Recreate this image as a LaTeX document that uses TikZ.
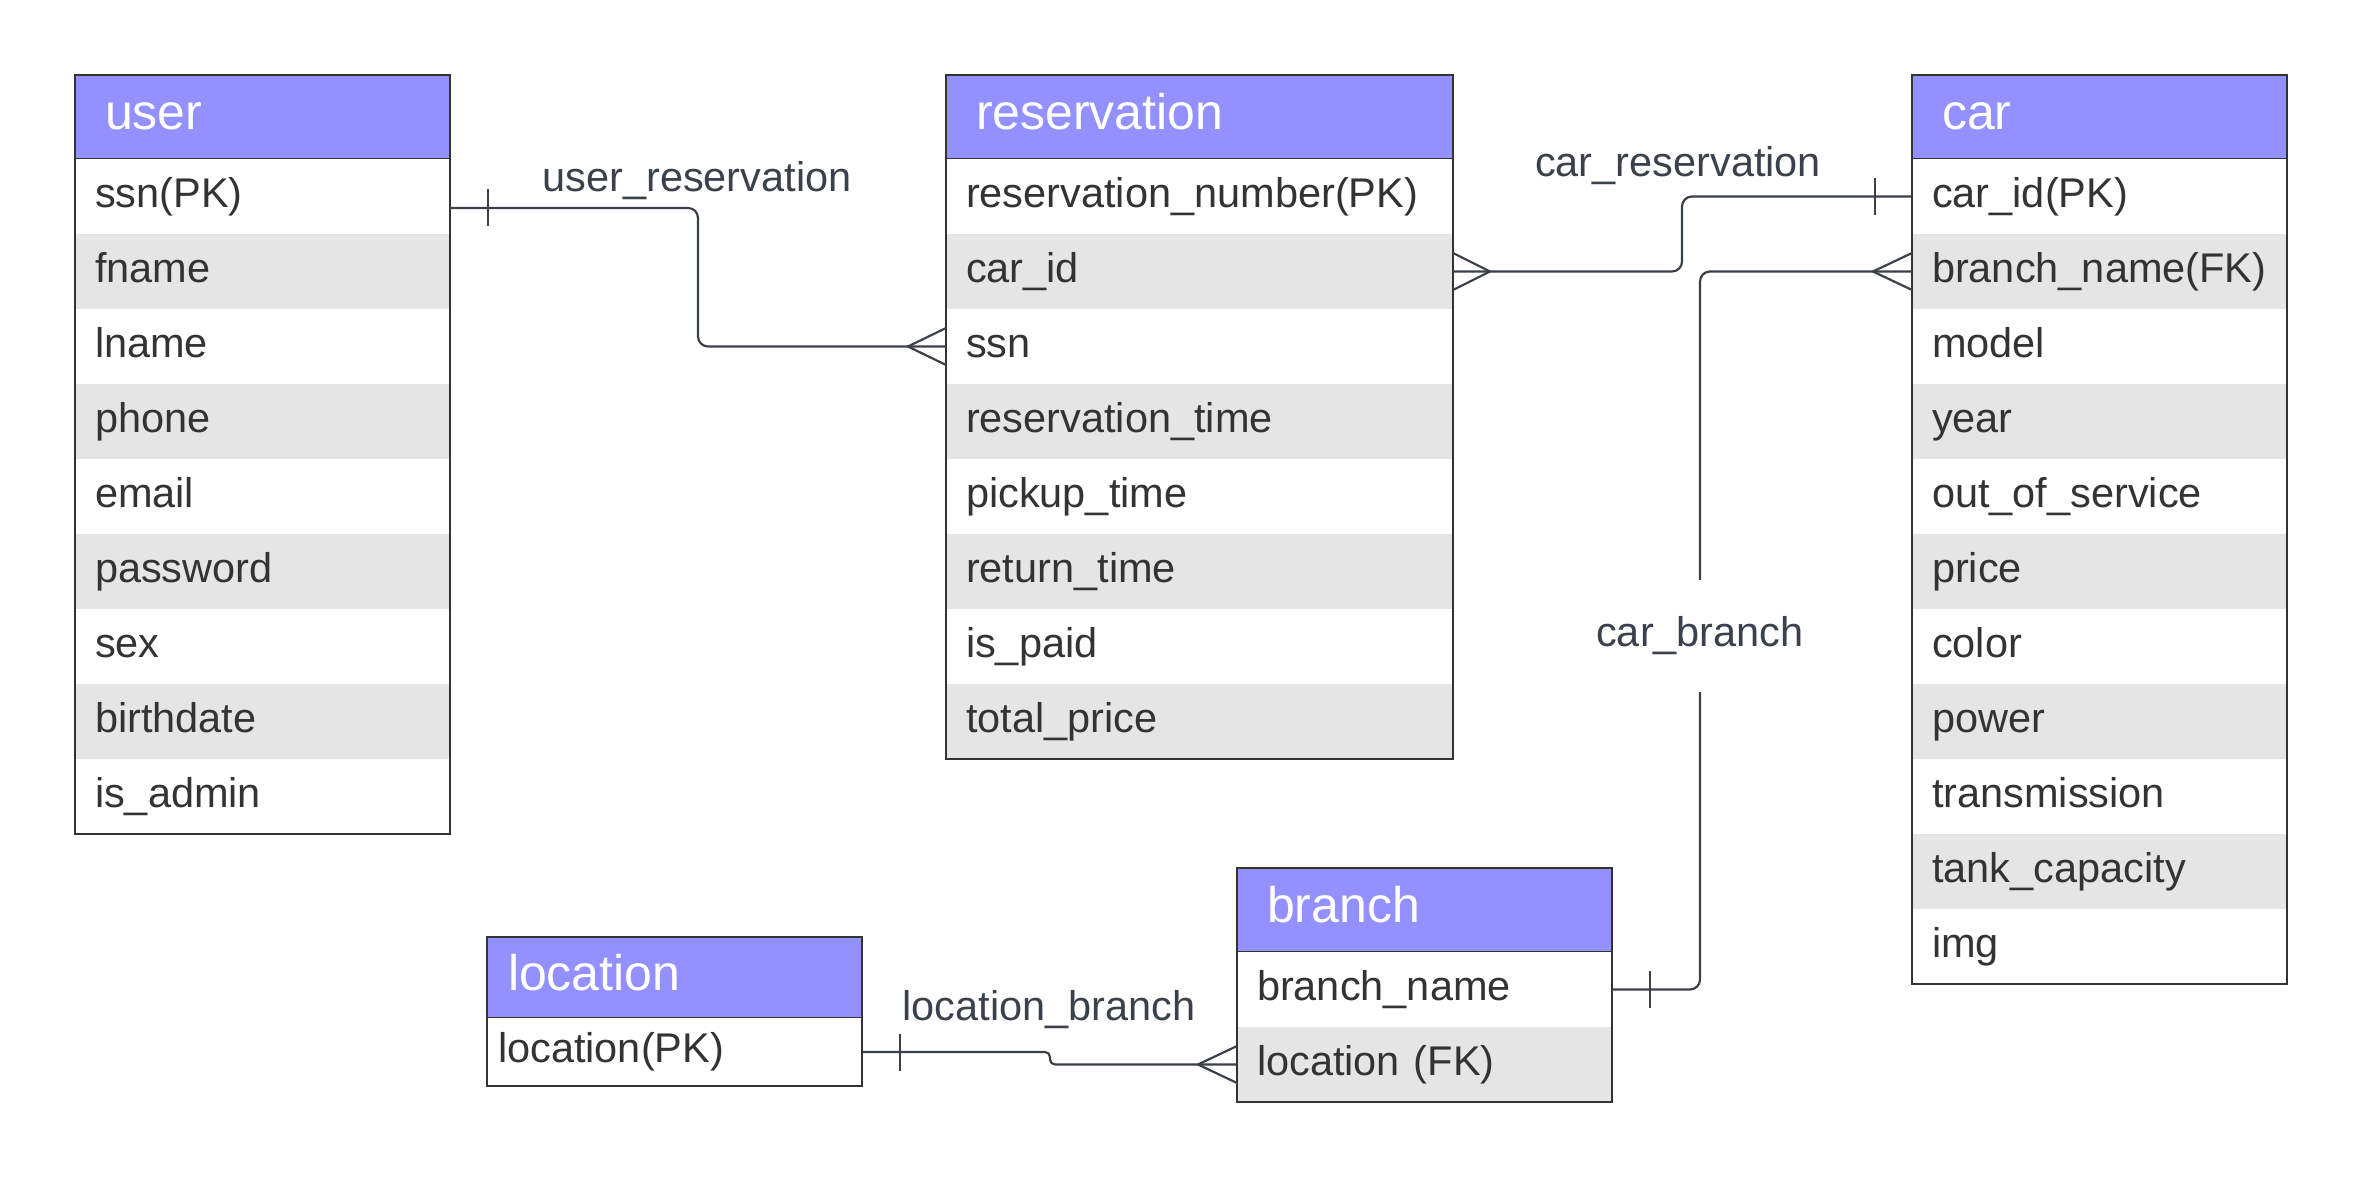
\documentclass[tikz,border=0pt]{standalone}
\usepackage{fontspec}
\setmainfont{Liberation Sans}
\usepackage{xcolor}
\usepackage{tikz}
\usetikzlibrary{positioning}
\definecolor{entete}{RGB}{146,145,255}
\definecolor{grisc}{RGB}{229,229,229}
\definecolor{bord}{RGB}{51,51,51}
\definecolor{trait}{RGB}{58,63,72}
\definecolor{texte}{RGB}{51,51,51}
\definecolor{libel}{RGB}{58,65,76}

\begin{document}
\begin{tikzpicture}[x=0.3pt, y=0.3pt,
  hd/.style={rectangle, draw=bord, line width=0.75pt, fill=entete, text=white, anchor=north west,
             font=\fontsize{15}{18}\selectfont, minimum height=25.2pt, text width=#1, inner xsep=9pt,
             inner ysep=0pt, outer sep=0pt, align=left, text height=10.8pt, text depth=3.15pt},
  rw/.style={rectangle, fill=white, text=texte, font=\fontsize{12.45}{15}\selectfont,
             minimum height=22.5pt, text width=#1, inner xsep=6pt, inner ysep=0pt, outer sep=0pt,
             align=left, text height=9pt, text depth=2.6pt},
  gr/.style={rw=#1, fill=grisc},
  tab/.style={draw=bord, line width=0.75pt},
  lien/.style={draw=trait, line width=0.65pt, rounded corners=3pt},
  pied/.style={draw=trait, line width=0.65pt, sharp corners, line join=miter},
  lbl/.style={text=libel, font=\fontsize{12.45}{15}\selectfont, inner sep=0pt,
              text height=9pt, text depth=2.6pt}]

\useasboundingbox (0,0) rectangle (2363,-1178);

% user
\node[hd=94.5pt] (user) at (75,-75) {user};
\node[rw=100.5pt, below=0pt of user] (u1) {ssn(PK)};
\node[gr=100.5pt, below=0pt of u1] (u2) {fname};
\node[rw=100.5pt, below=0pt of u2] (u3) {lname};
\node[gr=100.5pt, below=0pt of u3] (u4) {phone};
\node[rw=100.5pt, below=0pt of u4] (u5) {email};
\node[gr=100.5pt, below=0pt of u5] (u6) {password};
\node[rw=100.5pt, below=0pt of u6] (u7) {sex};
\node[gr=100.5pt, below=0pt of u7] (u8) {birthdate};
\node[rw=100.5pt, below=0pt of u8] (u9) {is\_admin};
\draw[tab] (user.north west) rectangle (u9.south east);

% reservation
\node[hd=134.1pt] (resa) at (946,-75) {reservation};
\node[rw=140.1pt, below=0pt of resa] (r1) {reservation\_number(PK)};
\node[gr=140.1pt, below=0pt of r1] (r2) {car\_id};
\node[rw=140.1pt, below=0pt of r2] (r3) {ssn};
\node[gr=140.1pt, below=0pt of r3] (r4) {reservation\_time};
\node[rw=140.1pt, below=0pt of r4] (r5) {pickup\_time};
\node[gr=140.1pt, below=0pt of r5] (r6) {return\_time};
\node[rw=140.1pt, below=0pt of r6] (r7) {is\_paid};
\node[gr=140.1pt, below=0pt of r7] (r8) {total\_price};
\draw[tab] (resa.north west) rectangle (r8.south east);

% car
\node[hd=94.5pt] (car) at (1912,-75) {car};
\node[rw=100.5pt, below=0pt of car] (c1) {car\_id(PK)};
\node[gr=100.5pt, below=0pt of c1] (c2) {branch\_name(FK)};
\node[rw=100.5pt, below=0pt of c2] (c3) {model};
\node[gr=100.5pt, below=0pt of c3] (c4) {year};
\node[rw=100.5pt, below=0pt of c4] (c5) {out\_of\_service};
\node[gr=100.5pt, below=0pt of c5] (c6) {price};
\node[rw=100.5pt, below=0pt of c6] (c7) {color};
\node[gr=100.5pt, below=0pt of c7] (c8) {power};
\node[rw=100.5pt, below=0pt of c8] (c9) {transmission};
\node[gr=100.5pt, below=0pt of c9] (c10) {tank\_capacity};
\node[rw=100.5pt, below=0pt of c10] (c11) {img};
\draw[tab] (car.north west) rectangle (c11.south east);

% branch
\node[hd=94.5pt] (branch) at (1237,-868) {branch};
\node[rw=100.5pt, below=0pt of branch] (b1) {branch\_name};
\node[gr=100.5pt, below=0pt of b1] (b2) {location (FK)};
\draw[tab] (branch.north west) rectangle (b2.south east);

% location
\node[hd=99.9pt, inner xsep=6.3pt, minimum height=24.3pt] (loc) at (487,-937) {location};
\node[rw=105.9pt, inner xsep=3.3pt, minimum height=20.4pt, below=0pt of loc] (l1) {location(PK)};
\draw[tab] (loc.north west) rectangle (l1.south east);

% user_reservation
\draw[lien] ([yshift=-3.45pt]u1.east) -- ++(248,0) |- (r3.west);
\draw[pied] ([shift={(38,7)}]u1.east) -- ++(0,-37);
\draw[pied] ([shift={(0,18.5)}]r3.west) -- ++(-38,-18.5) -- ++(38,-18.5);
\node[lbl] (ur) at (697,-181) {user\_reservation};

% car_reservation
\draw[lien] (r2.east) -- ++(229,0) |- (c1.west);
\draw[pied] ([shift={(0,18.5)}]r2.east) -- ++(37,-18.5) -- ++(-37,-18.5);
\draw[pied] ([shift={(-37,18.5)}]c1.west) -- ++(0,-37);
\node[lbl] (cr) at (1678,-166) {car\_reservation};

% car_branch
\draw[lien] (c2.west) -- ++(-212,0) |- (b1.east);
\draw[pied] ([shift={(0,18.5)}]c2.west) -- ++(-39,-18.5) -- ++(39,-18.5);
\draw[pied] ([shift={(38,18.5)}]b1.east) -- ++(0,-37);
\node[lbl, fill=white, inner xsep=4pt, inner ysep=11pt] (cb) at (1700,-636) {car\_branch};

% location_branch
\draw[lien, rounded corners=1.5pt] (l1.east) -- ++(188,0) |- (b2.west);
\draw[pied] ([shift={(38,18.5)}]l1.east) -- ++(0,-37);
\draw[pied] ([shift={(0,18.5)}]b2.west) -- ++(-39,-18.5) -- ++(39,-18.5);
\node[lbl] (lb) at (1049,-1010) {location\_branch};

\end{tikzpicture}
\end{document}
